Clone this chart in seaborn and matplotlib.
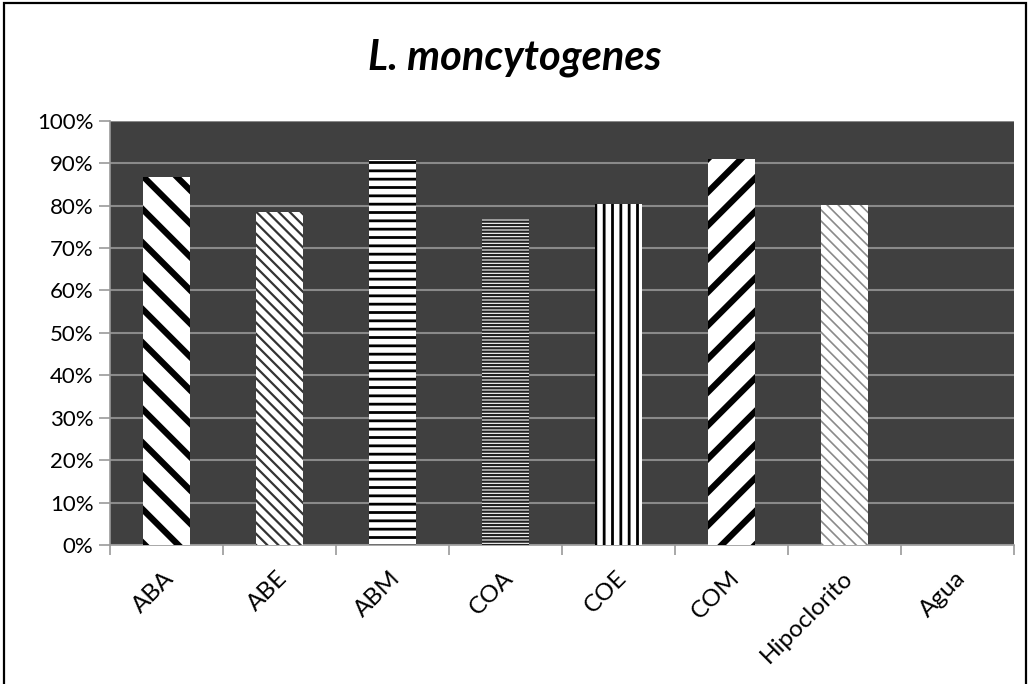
import matplotlib
matplotlib.use("Agg")
import matplotlib.pyplot as plt
import matplotlib.transforms as mtransforms
from matplotlib.patches import Rectangle
from matplotlib.ticker import PercentFormatter, FixedLocator
import seaborn as sns
import pandas as pd

# Disinfectant efficacy against L. monocytogenes (fraction reduced)
categories = ["ABA", "ABE", "ABM", "COA", "COE", "COM", "Hipoclorito", "Agua"]
efficacy = [0.868, 0.785, 0.907, 0.768, 0.804, 0.910, 0.801, 0.0]
hatches = ["\\", "\\\\\\", "--", "-----", "||", "/", "\\\\\\", ""]
hatch_widths = [4.5, 1.6, 2.0, 1.6, 2.0, 4.5, 1.2, 1.0]
hatch_colors = ["black", "#333333", "black", "#222222", "black", "black", "#8a8a8a", "black"]

df = pd.DataFrame({"cat": categories, "val": efficacy})

sns.set_theme(style="white")
plt.rcParams["font.family"] = ["Lato", "DejaVu Sans"]

fig = plt.figure(figsize=(10.30, 6.84), dpi=100)
ax = fig.add_axes([110 / 1030, 1 - 545 / 684, (1014 - 110) / 1030, (545 - 120.7) / 684])

sns.barplot(data=df, x="cat", y="val", color="white", width=0.41,
            saturation=1, ax=ax, linewidth=0, edgecolor="black")

for bar, h, lw, hc in zip(ax.patches, hatches, hatch_widths, hatch_colors):
    bar.set_facecolor("white")
    bar.set_hatch(h)
    bar.set_edgecolor(hc)
    bar.set_linewidth(0)
    bar.set_hatch_linewidth(lw)
    bar.set_zorder(3)

ax.set_facecolor("#404040")
ax.set_ylim(0, 1.0)
ax.set_xlim(-0.5, len(categories) - 0.5)
ax.yaxis.set_major_locator(FixedLocator([i / 10 for i in range(11)]))
ax.yaxis.set_major_formatter(PercentFormatter(1.0, decimals=0))
ax.grid(axis="y", color="#8a8a8a", linewidth=1.5, zorder=1)
ax.set_axisbelow(True)

for side in ["top", "right"]:
    ax.spines[side].set_visible(False)
for side in ["left", "bottom"]:
    ax.spines[side].set_color("#9a9a9a")
    ax.spines[side].set_linewidth(1.2)

ax.set_xlabel("")
ax.set_ylabel("")
ax.tick_params(axis="y", which="major", length=8, width=1.2, color="#9a9a9a",
               labelsize=16, labelcolor="black", pad=4, left=True)
ax.tick_params(axis="x", which="major", length=0, labelsize=17.5, labelcolor="black", pad=16)
ax.set_xticks(range(len(categories)))
ax.set_xticklabels(categories, rotation=45, ha="right", rotation_mode="anchor")

# Category boundary ticks on the x axis
ax.set_xticks([i - 0.5 for i in range(len(categories) + 1)], minor=True)
ax.tick_params(axis="x", which="minor", length=7, width=1.2, color="#9a9a9a", bottom=True)

# Shift rotated labels so their ends sit just right of the bar centres
offset = mtransforms.ScaledTranslation(-0.03, 0.0, fig.dpi_scale_trans)
for lbl in ax.get_xticklabels():
    lbl.set_transform(lbl.get_transform() + offset)

fig.text(0.5, 1 - 58 / 684, "L. moncytogenes", ha="center", va="center",
         fontsize=30, fontweight="bold", fontstyle="italic", color="black")

# Chart frame
fig.patches.append(Rectangle((4 / 1030, -0.01), (1026 - 4) / 1030, 1 - 3 / 684 + 0.01,
                             transform=fig.transFigure, fill=False,
                             edgecolor="black", linewidth=1.6))

fig.savefig("out.png", dpi=100)
